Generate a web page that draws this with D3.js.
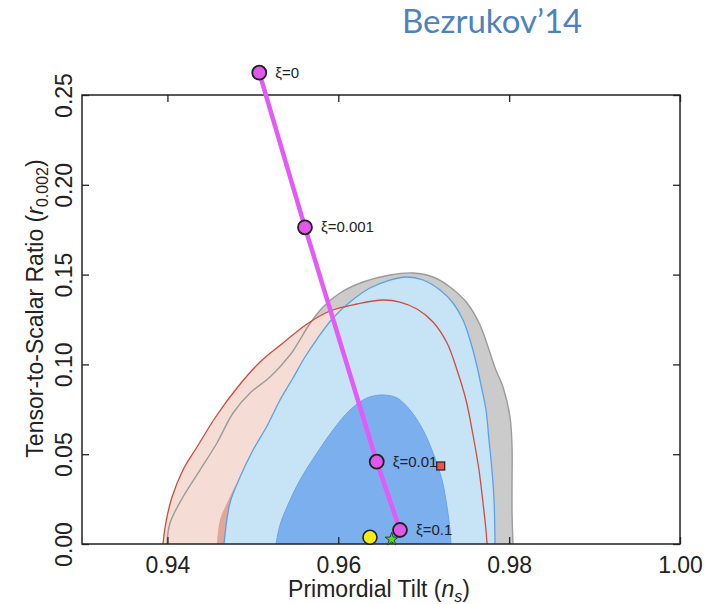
<!DOCTYPE html>
<html>
<head>
<meta charset="utf-8">
<script src="https://cdn.jsdelivr.net/npm/d3@7/dist/d3.min.js"></script>
<style>
  html, body { margin: 0; padding: 0; background: #ffffff; }
  svg { display: block; }
  text { font-family: "Liberation Sans", Arial, sans-serif; fill: #222; }
</style>
</head>
<body>
<svg id="chart" width="708" height="604"></svg>
<script>
// Axis ticks
const nsTicks = [0.94, 0.96, 0.98, 1.00];
const rTicks = [0.00, 0.05, 0.10, 0.15, 0.20, 0.25];

// Confidence contours in the (n_s, r) plane, traced from the bottom-left edge
// clockwise to the bottom-right edge; the r = 0 edge closes each region.
const grey95 = [
  [0.93995, 0.0], [0.94030, 0.01169], [0.94182, 0.02617], [0.94381, 0.04120],
  [0.94580, 0.05624], [0.94768, 0.07294], [0.94967, 0.08408], [0.95201, 0.09298],
  [0.95435, 0.10523], [0.95528, 0.11191], [0.95657, 0.12194], [0.95821, 0.13196],
  [0.96020, 0.13975], [0.96289, 0.14588], [0.96605, 0.14978], [0.96875, 0.15089],
  [0.97109, 0.14866], [0.97308, 0.14310], [0.97507, 0.13419], [0.97659, 0.12194],
  [0.97753, 0.10969], [0.97835, 0.09800], [0.97928, 0.08742], [0.98010, 0.07071],
  [0.98034, 0.05401], [0.98034, 0.03563], [0.98034, 0.01726], [0.98045, 0.0]
];
const red95 = [
  [0.93948, 0.0], [0.93983, 0.01225], [0.94054, 0.02617], [0.94182, 0.04120],
  [0.94346, 0.05401], [0.94580, 0.07183], [0.94814, 0.08686], [0.95084, 0.10134],
  [0.95353, 0.11191], [0.95634, 0.12249], [0.95903, 0.12973], [0.96219, 0.13363],
  [0.96523, 0.13586], [0.96722, 0.13474], [0.96921, 0.13085], [0.97109, 0.12361],
  [0.97273, 0.11191], [0.97390, 0.09688], [0.97495, 0.08018], [0.97577, 0.06069],
  [0.97647, 0.04120], [0.97694, 0.02283], [0.97729, 0.00780], [0.97741, 0.0]
];
const red68 = [
  [0.94580, 0.0], [0.94615, 0.01336], [0.94697, 0.02283], [0.94803, 0.03285],
  [0.95084, 0.05234], [0.95435, 0.06904], [0.95903, 0.08296], [0.96371, 0.08853],
  [0.96840, 0.08575], [0.97191, 0.07461], [0.97425, 0.05234], [0.97518, 0.02450],
  [0.97542, 0.0]
];
const blue95 = [
  [0.94662, 0.0], [0.94732, 0.02283], [0.94850, 0.03730], [0.95002, 0.05234],
  [0.95166, 0.06570], [0.95318, 0.08018], [0.95470, 0.09243], [0.95610, 0.10412],
  [0.95751, 0.11414], [0.95938, 0.12583], [0.96137, 0.13474], [0.96371, 0.14254],
  [0.96605, 0.14699], [0.96804, 0.14866], [0.96992, 0.14699], [0.97191, 0.14142],
  [0.97343, 0.13419], [0.97460, 0.12472], [0.97542, 0.11359], [0.97612, 0.10134],
  [0.97671, 0.08853], [0.97729, 0.07461], [0.97764, 0.05791], [0.97799, 0.04120],
  [0.97823, 0.02450], [0.97835, 0.0]
];
const blue68 = [
  [0.95271, 0.0], [0.95318, 0.01058], [0.95400, 0.02060], [0.95552, 0.03563],
  [0.95751, 0.05067], [0.95938, 0.06347], [0.96137, 0.07461], [0.96336, 0.08129],
  [0.96523, 0.08296], [0.96687, 0.08129], [0.96840, 0.07461], [0.96992, 0.06347],
  [0.97109, 0.05067], [0.97214, 0.03563], [0.97273, 0.02060], [0.97308, 0.00780],
  [0.97319, 0.0]
];

// Non-minimal Higgs inflation predictions for several couplings ξ
const xiLabels = ["ξ=0", "ξ=0.001", "ξ=0.01", "ξ=0.1"];
const xiNs = [0.95075, 0.95610, 0.96450, 0.96722];
const xiR = [0.26242, 0.17634, 0.04582, 0.00780];

// Other model points
const yellowPoint = [0.96371, 0.00373];
const starPoint = [0.96625, 0.00262];
const squarePoint = [0.97199, 0.04343];

const svg = d3.select("#chart");
const plotL = 82, plotR = 680, plotT = 95, plotB = 544;

const x = d3.scaleLinear().domain([0.93, 1.00]).range([plotL, plotR]);
const y = d3.scaleLinear().domain([0, 0.25]).range([plotB, plotT]);

// Title
svg.append("text")
  .attr("x", 402).attr("y", 33)
  .style("font-family", "Lato, 'Open Sans', sans-serif")
  .style("font-size", "33px")
  .style("fill", "#4f81bd")
  .text("Bezrukov’14");

svg.append("defs").append("clipPath").attr("id", "plotClip")
  .append("rect").attr("x", plotL).attr("y", plotT)
  .attr("width", plotR - plotL).attr("height", plotB - plotT);

const plot = svg.append("g").attr("clip-path", "url(#plotClip)");

const curve = d3.line().x(d => x(d[0])).y(d => y(d[1])).curve(d3.curveCatmullRom.alpha(0.5));
const area = pts => curve(pts) + "Z";

function fillRegion(pts, color) {
  plot.append("path").attr("d", area(pts)).attr("fill", color).attr("stroke", "none");
}
function outline(pts, color, w) {
  plot.append("path").attr("d", curve(pts)).attr("fill", "none")
    .attr("stroke", color).attr("stroke-width", w).attr("stroke-linejoin", "round");
}

fillRegion(grey95, "#cbcbcb");
fillRegion(red95, "#f5dcd4");
fillRegion(red68, "#e3a598");
outline(grey95, "#9b9b9b", 1.4);
fillRegion(blue95, "#c7e4f7");
outline(blue95, "#5c9fe9", 1.3);
fillRegion(blue68, "#7cafee");
outline(blue68, "#6aa3ea", 1.0);
outline(red95, "#d14a3c", 1.3);

// Frame and inward ticks on all four sides
const tickLen = 7;
const axB = svg.append("g").attr("transform", `translate(0,${plotB})`)
  .call(d3.axisBottom(x).tickValues(nsTicks).tickSizeInner(-tickLen).tickSizeOuter(0)
    .tickFormat(d3.format(".2f")));
const axT = svg.append("g").attr("transform", `translate(0,${plotT})`)
  .call(d3.axisTop(x).tickValues(nsTicks).tickSizeInner(-tickLen).tickSizeOuter(0)
    .tickFormat(""));
const axL = svg.append("g").attr("transform", `translate(${plotL},0)`)
  .call(d3.axisLeft(y).tickValues(rTicks).tickSizeInner(-tickLen).tickSizeOuter(0)
    .tickFormat(d3.format(".2f")));
const axR = svg.append("g").attr("transform", `translate(${plotR},0)`)
  .call(d3.axisRight(y).tickValues(rTicks).tickSizeInner(-tickLen).tickSizeOuter(0)
    .tickFormat(""));

[axB, axT, axL, axR].forEach(g => {
  g.select(".domain").remove();
  g.selectAll("line").attr("stroke", "#222").attr("stroke-width", 1.3);
});

axB.selectAll("text")
  .attr("y", 29).attr("dy", null)
  .style("font-size", "23px").style("font-family", "'Liberation Sans', Arial, sans-serif")
  .attr("fill", "#222");
axL.selectAll("text")
  .attr("x", null).attr("dy", null).attr("y", null)
  .attr("transform", "translate(-10,0) rotate(-90)")
  .attr("text-anchor", "middle")
  .style("font-size", "23px").style("font-family", "'Liberation Sans', Arial, sans-serif")
  .attr("fill", "#222");

svg.append("rect")
  .attr("x", plotL).attr("y", plotT)
  .attr("width", plotR - plotL).attr("height", plotB - plotT)
  .attr("fill", "none").attr("stroke", "#222").attr("stroke-width", 1.5);

// Axis titles
const xt = svg.append("text")
  .attr("x", (plotL + plotR) / 2 - 2).attr("y", 597)
  .attr("text-anchor", "middle")
  .style("font-size", "23px");
xt.append("tspan").text("Primordial Tilt (");
xt.append("tspan").style("font-style", "italic").text("n");
xt.append("tspan").style("font-style", "italic").style("font-size", "16px").attr("dy", 5).text("s");
xt.append("tspan").attr("dy", -5).text(")");

const yt = svg.append("text")
  .attr("transform", `translate(43,${(plotT + plotB) / 2 - 11}) rotate(-90)`)
  .attr("text-anchor", "middle")
  .style("font-size", "23px");
yt.append("tspan").text("Tensor-to-Scalar Ratio (");
yt.append("tspan").style("font-style", "italic").text("r");
yt.append("tspan").style("font-size", "16px").attr("dy", 5).text("0.002");
yt.append("tspan").attr("dy", -5).text(")");

// Model track and markers (drawn above the frame, not clipped)
const track = xiNs.map((v, i) => [v, xiR[i]]);
svg.append("path")
  .attr("d", d3.line().x(d => x(d[0])).y(d => y(d[1]))(track))
  .attr("fill", "none").attr("stroke", "#e35af6").attr("stroke-width", 4.5)
  .attr("stroke-linecap", "round");

svg.append("circle")
  .attr("cx", x(yellowPoint[0])).attr("cy", y(yellowPoint[1])).attr("r", 7)
  .attr("fill", "#f6ea1e").attr("stroke", "#222").attr("stroke-width", 1.6);

svg.append("path")
  .attr("d", d3.symbol().type(d3.symbolStar).size(55)())
  .attr("transform", `translate(${x(starPoint[0])},${y(starPoint[1])})`)
  .attr("fill", "#5ed43c").attr("stroke", "#1f4a14").attr("stroke-width", 1);

svg.append("rect")
  .attr("x", x(squarePoint[0]) - 4).attr("y", y(squarePoint[1]) - 4)
  .attr("width", 8).attr("height", 8)
  .attr("fill", "#e8574a").attr("stroke", "#222").attr("stroke-width", 1.2);

track.forEach((d, i) => {
  svg.append("circle")
    .attr("cx", x(d[0])).attr("cy", y(d[1])).attr("r", 7)
    .attr("fill", "#e057ea").attr("stroke", "#222").attr("stroke-width", 1.8);
  svg.append("text")
    .attr("x", x(d[0]) + 16).attr("y", y(d[1]) + 5)
    .style("font-size", "15px").attr("fill", "#333")
    .text(xiLabels[i]);
});
</script>
</body>
</html>
